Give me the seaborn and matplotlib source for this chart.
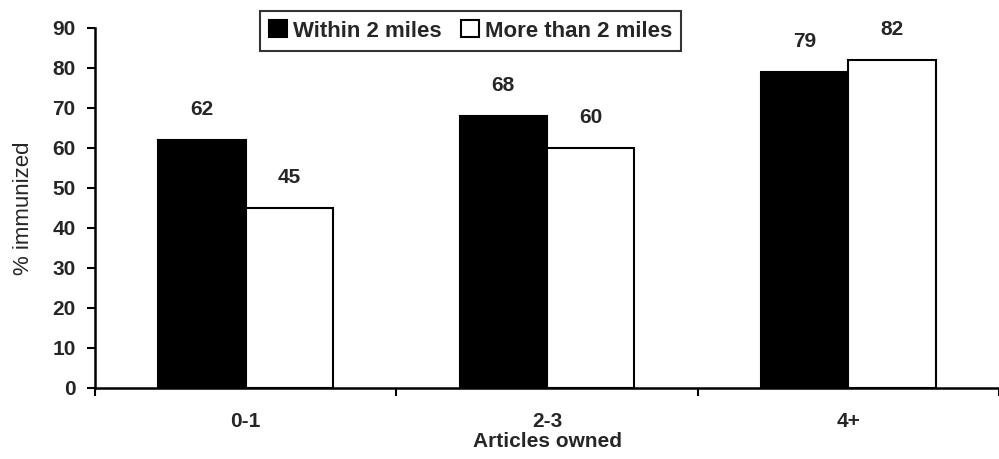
import matplotlib
matplotlib.use("Agg")
import matplotlib.pyplot as plt
import seaborn as sns
import pandas as pd

categories = ["0-1", "2-3", "4+"]
series_names = ["Within 2 miles", "More than 2 miles"]
within_2_miles = [62, 68, 79]
more_than_2_miles = [45, 60, 82]
y_ticks = [0, 10, 20, 30, 40, 50, 60, 70, 80, 90]

sns.set_theme(style="white")
plt.rcParams["font.family"] = ["Liberation Sans", "DejaVu Sans"]

FS = 15

df = pd.DataFrame({
    "Articles owned": categories * 2,
    "group": [series_names[0]] * 3 + [series_names[1]] * 3,
    "value": within_2_miles + more_than_2_miles,
})

fig = plt.figure(figsize=(9.99, 4.59), dpi=100)
ax = fig.add_axes([0.0951, 0.1547, 0.9049, 0.7843])

sns.barplot(data=df, x="Articles owned", y="value", hue="group",
            hue_order=series_names, order=categories,
            palette=["black", "white"], edgecolor="black", linewidth=1.5,
            width=0.58, ax=ax, legend=True)

# value labels above each bar
for container in ax.containers:
    for bar in container:
        h = bar.get_height()
        ax.annotate(f"{h:.0f}", (bar.get_x() + bar.get_width() / 2, h),
                    xytext=(0, 22), textcoords="offset points",
                    ha="center", va="center", fontsize=FS, fontweight="bold")

ax.set_ylim(0, 90)
ax.set_xlim(-0.5, 2.47)
ax.set_yticks(y_ticks)
ax.set_yticklabels([str(t) for t in y_ticks], fontsize=FS, fontweight="bold")

# category labels centred, ticks at category boundaries
ax.set_xticks([0, 1, 2])
ax.set_xticklabels(categories, fontsize=FS, fontweight="bold")
ax.tick_params(axis="x", length=0, pad=17)
ax.set_xticks([-0.5, 0.5, 1.5, 2.5], minor=True)
ax.tick_params(axis="x", which="minor", length=6, width=1.5, color="black",
               direction="out", bottom=True)
ax.tick_params(axis="y", length=6, width=1.5, color="black", direction="out",
               left=True, pad=8)

for side in ["top", "right"]:
    ax.spines[side].set_visible(False)
for side in ["left", "bottom"]:
    ax.spines[side].set_color("black")
    ax.spines[side].set_linewidth(1.8)

ax.set_xlabel("Articles owned", fontsize=FS, fontweight="bold", labelpad=1)
ax.set_ylabel("% immunized", fontsize=16, labelpad=13)

handles, labels = ax.get_legend_handles_labels()
ax.get_legend().remove()
leg = fig.legend(handles, labels, loc="upper center", bbox_to_anchor=(0.471, 1.0),
                 ncol=2, frameon=True, fancybox=False, edgecolor="black",
                 prop={"weight": "bold", "size": 16},
                 handlelength=0.8, handleheight=0.8, handletextpad=0.25,
                 columnspacing=0.9, borderpad=0.42)
leg.get_frame().set_linewidth(1.5)

fig.savefig("out.png", dpi=100, facecolor="white")
